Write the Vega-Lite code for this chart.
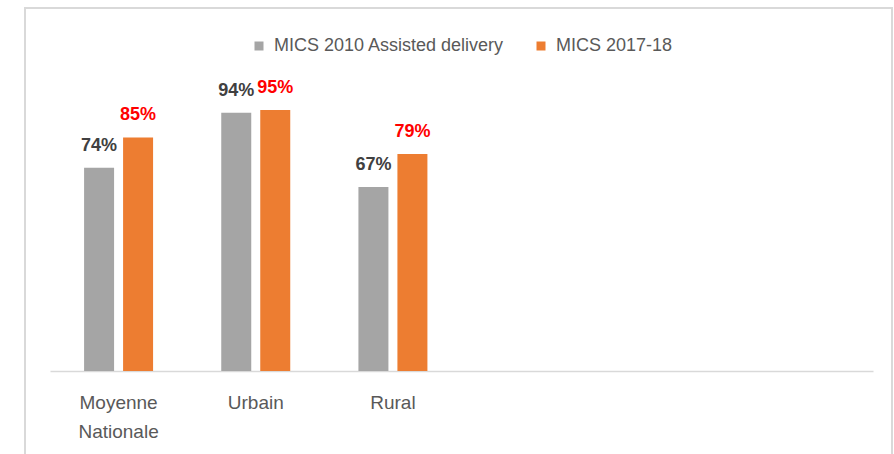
{
  "$schema": "https://vega.github.io/schema/vega-lite/v6.json",
  "autosize": {"type": "none"},
  "padding": {"left": 25, "top": 8, "right": 2, "bottom": 0},
  "width": 867,
  "height": 448,
  "background": "#FFFFFF",
  "config": {
    "font": "Liberation Sans",
    "view": {"stroke": "#D9D9D9", "strokeWidth": 2}
  },
  "data": {
    "values": [
      {"region": "Moyenne Nationale", "series": "MICS 2010 Assisted delivery", "value": 0.74},
      {"region": "Moyenne Nationale", "series": "MICS 2017-18", "value": 0.85},
      {"region": "Urbain", "series": "MICS 2010 Assisted delivery", "value": 0.94},
      {"region": "Urbain", "series": "MICS 2017-18", "value": 0.95},
      {"region": "Rural", "series": "MICS 2010 Assisted delivery", "value": 0.67},
      {"region": "Rural", "series": "MICS 2017-18", "value": 0.79}
    ]
  },
  "encoding": {
    "x": {
      "field": "region",
      "type": "nominal",
      "sort": null,
      "scale": {
        "domain": ["Moyenne Nationale", "Urbain", "Rural", "_4", "_5", "_6"],
        "range": [25, 848],
        "paddingInner": 0.497,
        "paddingOuter": 0.2485
      },
      "axis": {
        "orient": "bottom",
        "offset": -85,
        "title": null,
        "labelAngle": 0,
        "ticks": false,
        "domainColor": "#D9D9D9",
        "domainWidth": 1.5,
        "labelColor": "#595959",
        "labelFontSize": 19,
        "labelPadding": 22,
        "labelLineHeight": 29,
        "labelExpr": "indexof(datum.label, '_') == 0 ? '' : split(datum.label, ' ')"
      }
    },
    "xOffset": {
      "field": "series",
      "type": "nominal",
      "sort": ["MICS 2010 Assisted delivery", "MICS 2017-18"],
      "scale": {"paddingInner": 0.2308, "paddingOuter": 0}
    },
    "y": {
      "field": "value",
      "type": "quantitative",
      "scale": {"domain": [-0.3093, 1.321], "nice": false, "zero": false},
      "axis": null
    }
  },
  "layer": [
    {
      "mark": {"type": "bar"},
      "encoding": {
        "y2": {"datum": 0},
        "color": {
          "field": "series",
          "type": "nominal",
          "sort": ["MICS 2010 Assisted delivery", "MICS 2017-18"],
          "scale": {"range": ["#A5A5A5", "#ED7D31"]},
          "legend": {
            "orient": "none",
            "legendX": 225,
            "legendY": 29,
            "direction": "horizontal",
            "title": null,
            "symbolType": "square",
            "symbolSize": 81,
            "symbolStrokeWidth": 0,
            "symbolOpacity": 1,
            "labelFontSize": 18,
            "labelColor": "#595959",
            "labelLimit": 0,
            "labelOffset": 6,
            "columnPadding": 27,
            "padding": 0
          }
        }
      }
    },
    {
      "mark": {"type": "text", "baseline": "alphabetic", "dy": -17, "fontSize": 18, "fontWeight": "bold"},
      "encoding": {
        "text": {"field": "value", "type": "quantitative", "format": ".0%"},
        "color": {
          "condition": {"test": "datum.series === 'MICS 2017-18'", "value": "#FF0000"},
          "value": "#404040"
        }
      }
    }
  ]
}
